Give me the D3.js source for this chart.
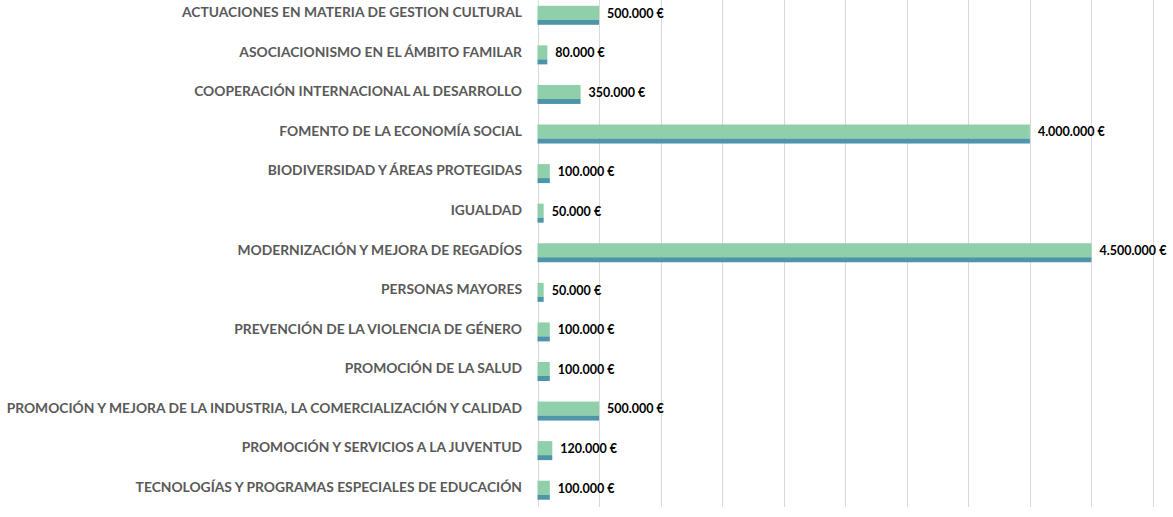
<!DOCTYPE html>
<html>
<head>
<meta charset="utf-8">
<script src="https://cdn.jsdelivr.net/npm/d3@7"></script>
<style>
  body { margin: 0; background: #fff; }
  svg text { font-family: Lato, "Open Sans", sans-serif; font-weight: bold; }
</style>
</head>
<body>
<script>
var svgWidth = 1173;
var svgHeight = 517;

// data
var categories = [
  'ACTUACIONES EN MATERIA DE GESTION CULTURAL',
  'ASOCIACIONISMO EN EL ÁMBITO FAMILAR',
  'COOPERACIÓN INTERNACIONAL AL DESARROLLO',
  'FOMENTO DE LA ECONOMÍA SOCIAL',
  'BIODIVERSIDAD Y ÁREAS PROTEGIDAS',
  'IGUALDAD',
  'MODERNIZACIÓN Y MEJORA DE REGADÍOS',
  'PERSONAS MAYORES',
  'PREVENCIÓN DE LA VIOLENCIA DE GÉNERO',
  'PROMOCIÓN DE LA SALUD',
  'PROMOCIÓN Y MEJORA DE LA INDUSTRIA, LA COMERCIALIZACIÓN Y CALIDAD',
  'PROMOCIÓN Y SERVICIOS A LA JUVENTUD',
  'TECNOLOGÍAS Y PROGRAMAS ESPECIALES DE EDUCACIÓN'
];
var amounts = [500000, 80000, 350000, 4000000, 100000, 50000, 4500000, 50000, 100000, 100000, 500000, 120000, 100000];
var gridTicks = [0, 500000, 1000000, 1500000, 2000000, 2500000, 3000000, 3500000, 4000000, 4500000, 5000000];

var svg = d3.select('body').append('svg')
  .attr('width', svgWidth)
  .attr('height', svgHeight);

var x = d3.scaleLinear().domain([0, 5000000]).range([537.5, 1153]);
var y = d3.scaleBand().domain(categories).range([-7.5, 507]);

var fmt = function(v){
  return d3.format(',')(v).replace(/,/g, '.') + ' €';
};

// gridlines
svg.selectAll('.grid').data(gridTicks)
  .enter().append('line')
  .attr('x1', function(d){ return Math.round(x(d)) + 0.5 })
  .attr('x2', function(d){ return Math.round(x(d)) + 0.5 })
  .attr('y1', 0)
  .attr('y2', 507)
  .attr('stroke', '#d9d9d9')
  .attr('stroke-width', 1);

var rows = svg.selectAll('.row').data(categories)
  .enter().append('g')
  .attr('transform', function(d){ return 'translate(0,' + (y(d) + y.bandwidth()/2) + ')' });

// green face
rows.append('rect')
  .attr('x', x(0))
  .attr('y', -6.5)
  .attr('width', function(d,i){ return x(amounts[i]) - x(0) })
  .attr('height', 14)
  .attr('fill', '#8fd0ab');

// darker bottom
rows.append('rect')
  .attr('x', x(0))
  .attr('y', 7.5)
  .attr('width', function(d,i){ return x(amounts[i]) - x(0) })
  .attr('height', 5)
  .attr('fill', '#4e95a9');

// category labels
var labels = rows.append('text')
  .text(function(d){ return d })
  .attr('x', 522)
  .attr('y', 0)
  .attr('dy', '0.35em')
  .attr('text-anchor', 'end')
  .attr('fill', '#595959')
  .style('font-size', '14px');

// fit longest label to the same width as the original
var longest = d3.max(labels.nodes(), function(n){ return n.getComputedTextLength() });
var fs = 14 * 516 / longest;
labels.style('font-size', fs + 'px');

// value labels
rows.append('text')
  .text(function(d,i){ return fmt(amounts[i]) })
  .attr('x', function(d,i){ return x(amounts[i]) + 8 })
  .attr('y', 1)
  .attr('dy', '0.35em')
  .attr('fill', '#000')
  .style('font-size', '12.5px');
</script>
</body>
</html>
